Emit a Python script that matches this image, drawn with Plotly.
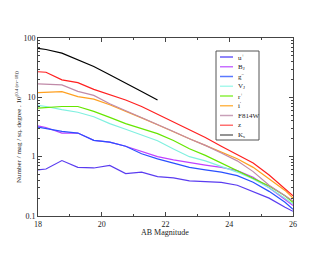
import plotly.graph_objects as go

mag = [18, 18.25, 18.75, 19.25, 19.75, 20.25, 20.75, 21.25, 21.75, 22.25, 22.75, 23.25, 23.75, 24.25, 24.75, 25.25, 25.75, 26]

u_plus = [0.6, 0.62, 0.86, 0.66, 0.645, 0.71, 0.52, 0.55, 0.46, 0.44, 0.39, 0.38, 0.37, 0.33, 0.26, 0.2, 0.14, 0.12]
b_j = [3.3, 3.1, 2.5, 2.5, 1.88, 1.76, 1.5, 1.22, 1.0, 0.88, 0.79, 0.72, 0.66, 0.58, 0.45, 0.3, 0.19, 0.15]
g_minus = [3.15, 3.0, 2.67, 2.5, 1.88, 1.76, 1.5, 1.12, 0.92, 0.78, 0.66, 0.6, 0.55, 0.48, 0.37, 0.26, 0.17, 0.13]
v_j = [7.3, 7.0, 6.2, 5.6, 4.7, 3.6, 2.9, 2.3, 1.85, 1.35, 1.0, 0.85, 0.68, 0.55, 0.42, 0.3, 0.2, 0.16]
r_plus = [6.6, 6.7, 7.0, 7.0, 5.8, 4.6, 3.6, 2.97, 2.45, 1.87, 1.36, 1.05, 0.78, 0.59, 0.44, 0.32, 0.22, 0.17]
i_prime = [12.0, 12.2, 12.5, 10.3, 9.3, 7.5, 5.9, 4.5, 3.45, 2.6, 2.0, 1.55, 1.2, 0.92, 0.66, 0.42, 0.27, 0.2]
f814w = [16.9, 16.8, 16.2, 12.6, 10.8, 7.8, 6.0, 4.6, 3.5, 2.65, 2.0, 1.55, 1.15, 0.85, 0.56, 0.33, 0.22, 0.18]
z_band = [27, 26.5, 19.7, 17.7, 13.6, 11.0, 9.0, 7.0, 5.2, 3.8, 2.8, 2.1, 1.5, 1.09, 0.78, 0.49, 0.29, 0.22]
k_s = [67, 64, 55.5, 43, 33, 24, 17.5, 12.5, 9.0]

names = ["u<sup>+</sup>", "B<sub>J</sub>", "g<sup>−</sup>", "V<sub>J</sub>", "r<sup>+</sup>",
         "i<sup>'</sup>", "F814W", "z", "K<sub>s</sub>"]
series = [u_plus, b_j, g_minus, v_j, r_plus, i_prime, f814w, z_band, k_s]
colors = ["#5a3cf0", "#c040ff", "#2a50ff", "#80f0e0", "#66e600", "#ffa020", "#c08aa8", "#ff2020", "#000000"]
legend_colors = ["#6a5cf8", "#c870ff", "#5a78ff", "#a8f8ec", "#8cf040", "#ffb850", "#c8a0b8", "#ff7070", "#707070"]

xticks = [18, 20, 22, 24, 26]
xminor = [19, 21, 23, 25]
yticks = [0.1, 1, 10, 100]
yminor = [m * d for d in (0.1, 1, 10) for m in range(2, 10)]

# page body has an 8px margin: figure coordinates = screen - 8
OFF = 8
W, H = 322, 247
L, T = 38 - OFF, 38 - OFF
R = W - (293 - OFF)
B = H - (216 - OFF)
pw, ph = W - L - R, H - T - B


def px(xs):
    return (xs - OFF - L) / pw


def py(ys):
    return 1 - (ys - OFF - T) / ph


fig = go.Figure()
for name, vals, col in zip(names, series, colors):
    fig.add_trace(go.Scatter(x=mag[:len(vals)], y=vals, mode="lines", name=name,
                             line=dict(color=col, width=1.2), showlegend=False))

shapes = [dict(type="rect", xref="paper", yref="paper", x0=px(216), x1=px(259), y0=py(140), y1=py(51),
               line=dict(color="#555", width=1), fillcolor="white", layer="above")]
annotations = []
for i, (name, col) in enumerate(zip(names, legend_colors)):
    yy = 57 + 9.75 * i
    shapes.append(dict(type="line", xref="paper", yref="paper", x0=px(220), x1=px(233), y0=py(yy), y1=py(yy),
                       line=dict(color=col, width=1.5), layer="above"))
    annotations.append(dict(xref="paper", yref="paper", x=px(236), y=py(yy), xanchor="left", yanchor="middle",
                            text=name, showarrow=False,
                            font=dict(family="Liberation Serif, serif", size=7, color="#222")))

annotations.append(dict(xref="paper", yref="paper", x=px(165), y=py(232), xanchor="center", yanchor="middle",
                        text="AB Magnitude", showarrow=False,
                        font=dict(family="Liberation Serif, serif", size=8, color="#222")))
annotations.append(dict(xref="paper", yref="paper", x=px(18), y=py(127), xanchor="center", yanchor="middle",
                        textangle=-90, showarrow=False,
                        text="Number / mag / sq. degree . 10<sup>(0.4 (m−18))</sup>",
                        font=dict(family="Liberation Serif, serif", size=7, color="#222")))

font = dict(family="Liberation Serif, Times New Roman, serif", size=8, color="#222")
fig.update_layout(
    width=W, height=H,
    margin=dict(l=L, r=R, t=T, b=B, autoexpand=False),
    paper_bgcolor="white", plot_bgcolor="white",
    font=font, showlegend=False,
    shapes=shapes, annotations=annotations,
)
fig.update_xaxes(range=[18, 26], tickmode="array", tickvals=xticks, ticktext=[str(t) for t in xticks],
                 ticks="inside", ticklen=4, tickcolor="#444",
                 minor=dict(tickmode="array", tickvals=xminor, ticks="inside", ticklen=2, tickcolor="#444",
                            showgrid=False),
                 showline=True, linecolor="#444", linewidth=1, mirror="ticks",
                 showgrid=False, zeroline=False, automargin=False)
fig.update_yaxes(type="log", range=[-1, 2], tickmode="array", tickvals=yticks,
                 ticktext=["0.1", "1", "10", "100"],
                 ticks="inside", ticklen=4, tickcolor="#444",
                 minor=dict(tickmode="array", tickvals=yminor, ticks="inside", ticklen=2, tickcolor="#444",
                            showgrid=False),
                 showline=True, linecolor="#444", linewidth=1, mirror="ticks",
                 showgrid=False, zeroline=False, automargin=False)

fig.write_html("out.html")
